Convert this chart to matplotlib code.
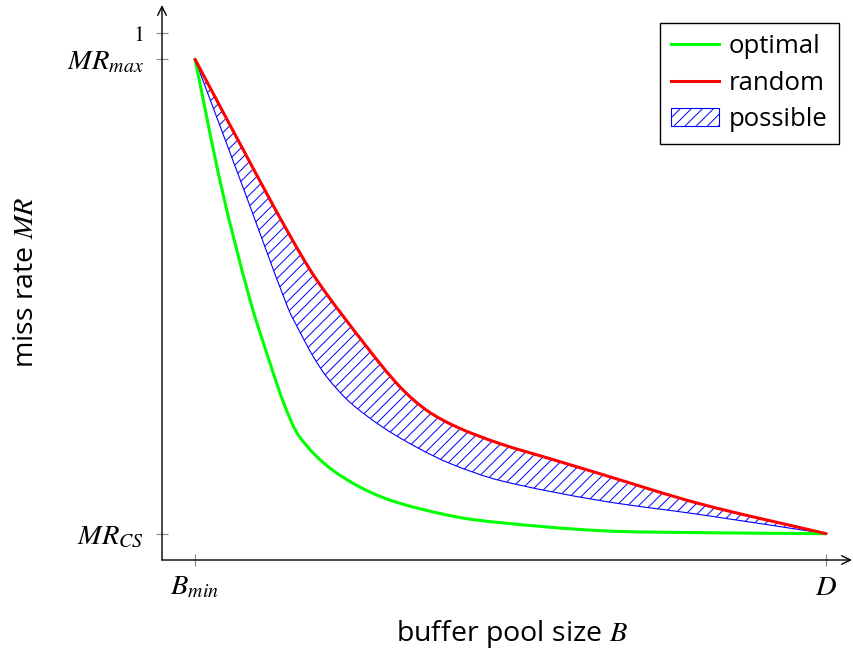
import matplotlib
matplotlib.use("Agg")
import matplotlib.pyplot as plt
import numpy as np
from matplotlib.path import Path
from matplotlib.patches import PathPatch, Patch
from matplotlib.lines import Line2D

plt.rcParams['font.family'] = ['Open Sans', 'DejaVu Sans']
plt.rcParams['mathtext.fontset'] = 'stix'
plt.rcParams['hatch.linewidth'] = 0.7

# x: Bmin = 0, D = 1 ; y: miss rate (MR_CS = 0.05, MR_max = 0.95)
opt_x = [0, 0.0428, 0.0872, 0.1189, 0.1426, 0.1664, 0.2187, 0.2979, 0.4041,
         0.4834, 0.6418, 0.8003, 1.0]
opt_y = [0.95, 0.7027, 0.4933, 0.3734, 0.2916, 0.2326, 0.1699, 0.1185, 0.0842,
         0.0709, 0.0557, 0.0519, 0.05]

rnd_x = [0, 0.0819, 0.1453, 0.1929, 0.2721, 0.3249, 0.3672, 0.4147, 0.4834,
         0.5626, 0.6418, 0.8003, 1.0]
rnd_y = [0.95, 0.7660, 0.6265, 0.5314, 0.4046, 0.3285, 0.2840, 0.2524, 0.2207,
         0.1922, 0.1636, 0.1066, 0.05]

low_x = [0, 0.0745, 0.1474, 0.1664, 0.1870, 0.2092, 0.2456, 0.2979, 0.3518,
         0.4041, 0.4834, 0.6418, 0.8003, 1.0]
low_y = [0.95, 0.7121, 0.4781, 0.4324, 0.3868, 0.3468, 0.2992, 0.2517, 0.2136,
         0.1832, 0.1508, 0.1128, 0.0862, 0.05]

y_ticks = [0.05, 0.95, 1.0]
y_ticklabels = [r'$MR_{CS}$', r'$MR_{max}$', r'$1$']
x_ticks = [0, 1]
x_ticklabels = [r'$B_{min}$', r'$D$']

# approximate pixel scale of one data unit (for chord lengths only)
SX, SY = 631.0, 525.6


def smooth(xs, ys, start_code=Path.MOVETO):
    """Smooth Bezier path through the given points (chord-length tangents)."""
    P = np.column_stack([xs, ys]).astype(float)
    Q = P * np.array([SX, SY])
    n = len(P)
    d = np.linalg.norm(np.diff(Q, axis=0), axis=1)
    T = np.zeros_like(P)
    for i in range(n):
        if i == 0:
            T[i] = (P[1] - P[0]) / d[0]
        elif i == n - 1:
            T[i] = (P[-1] - P[-2]) / d[-1]
        else:
            T[i] = (P[i + 1] - P[i - 1]) / (d[i - 1] + d[i])
    verts = [P[0]]
    codes = [start_code]
    for i in range(n - 1):
        c1 = P[i] + T[i] * d[i] / 3.0
        c2 = P[i + 1] - T[i + 1] * d[i] / 3.0
        verts += [c1, c2, P[i + 1]]
        codes += [Path.CURVE4] * 3
    return verts, codes


fig = plt.figure(figsize=(8.54, 6.57), dpi=100)
W, H = 854, 657
ax = fig.add_axes([162 / W, 1 - 560 / H, (852 - 162) / W, (560 - 5) / H])
ax.set_xlim(-0.0523, 1.0412)
ax.set_ylim(0, 1.053)

GREEN, RED, BLUE = '#00FF00', '#FF0000', '#0000FF'

# possible region: between lower boundary and the random curve
v1, c1 = smooth(low_x, low_y)
v2, c2 = smooth(rnd_x[::-1], rnd_y[::-1], start_code=Path.LINETO)
verts = v1 + v2 + [v1[0]]
codes = c1 + c2 + [Path.CLOSEPOLY]
region = PathPatch(Path(verts, codes), facecolor='none', edgecolor=BLUE,
                   hatch='///', linewidth=0.8, zorder=2)
ax.add_patch(region)

vo, co = smooth(opt_x, opt_y)
ax.add_patch(PathPatch(Path(vo, co), fill=False, edgecolor=GREEN, lw=2.2,
                       zorder=3, capstyle='round'))
vr, cr = smooth(rnd_x, rnd_y)
ax.add_patch(PathPatch(Path(vr, cr), fill=False, edgecolor=RED, lw=2.2,
                       zorder=4, capstyle='round'))

for s in ax.spines.values():
    s.set_visible(False)
arrow = dict(arrowstyle='->, head_length=0.45, head_width=0.22', lw=1.0,
             color='black', mutation_scale=14, shrinkA=0, shrinkB=0)
ax.annotate('', xy=(1, 0), xytext=(0, 0), xycoords='axes fraction',
            arrowprops=arrow)
ax.annotate('', xy=(0, 1), xytext=(0, 0), xycoords='axes fraction',
            arrowprops=arrow)

ax.set_yticks(y_ticks)
ax.set_yticklabels(y_ticklabels)
ax.set_xticks(x_ticks)
ax.set_xticklabels(x_ticklabels)
ax.tick_params(axis='both', direction='inout', length=8, width=0.8,
               color='#888888', labelsize=20.5)
ax.tick_params(axis='y', pad=9)
ax.tick_params(axis='x', pad=6)
ax.get_yticklabels()[2].set_fontsize(16)

ax.set_ylabel(r'miss rate $MR$', fontsize=20.5)
ax.set_xlabel(r'buffer pool size $B$', fontsize=20.5)
ax.yaxis.set_label_coords(-0.177, 0.5)
ax.xaxis.set_label_coords(0.507, -0.105)

handles = [Line2D([], [], color=GREEN, lw=2.2),
           Line2D([], [], color=RED, lw=2.2),
           Patch(facecolor='none', edgecolor=BLUE, hatch='///', lw=0.8)]
labels = ['optimal', 'random', 'possible']
leg = ax.legend(handles, labels,
                loc='upper right', bbox_to_anchor=(0.981, 0.968),
                borderaxespad=0, fancybox=False, edgecolor='black',
                framealpha=1, fontsize=18.5, handlelength=1.85,
                handletextpad=0.38, labelspacing=0.45, borderpad=0.45)
leg.get_frame().set_linewidth(1.0)

fig.savefig('out.png', dpi=100)
